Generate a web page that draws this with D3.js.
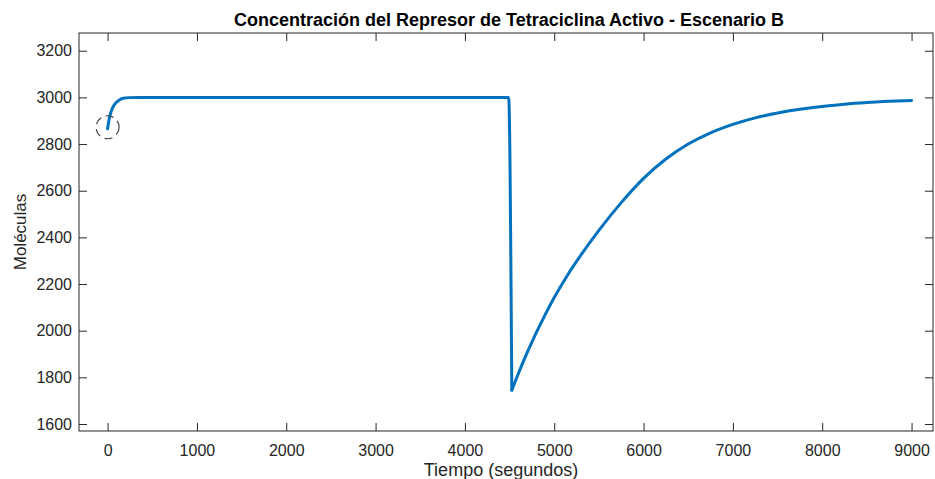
<!DOCTYPE html>
<html><head><meta charset="utf-8">
<script src="https://cdn.jsdelivr.net/npm/d3@7"></script>
<style>
body{margin:0;background:#fff;}
text{font-family:"Liberation Sans",Helvetica,Arial,sans-serif;}
</style></head>
<body><svg id="c" width="935" height="479"></svg>
<script>
const title = "Concentración del Represor de Tetraciclina Activo - Escenario B";
const xLabel = "Tiempo (segundos)";
const yLabel = "Moléculas";
const xTicks = [0,1000,2000,3000,4000,5000,6000,7000,8000,9000];
const yTicks = [1600,1800,2000,2200,2400,2600,2800,3000,3200];
const times  = [0,10,25,50,75,105,140,175,250,350,4490,4525,4575,4700,4900,5000,5150,5300,5500,5750,6000,6250,6500,6750,7000,7250,7500,7750,8000,8250,8500,8750,9000];
const values = [2865,2890,2920,2950,2968,2981,2991,2996,2999,3000,3000,1745,1794,1909,2070,2142,2239,2325,2430,2549,2653,2736,2800,2848,2884,2912,2933,2949,2961,2971,2978,2983,2987];
const markerPoint = [0, 2872];
const minIndex = 11; // sharp minimum after the drop

const L=79, R=933, T=33, B=431;
const svg=d3.select("#c");
const x=d3.scaleLinear().domain([-320,9240]).range([L,R]);
const y=d3.scaleLinear().domain([1570,3276]).range([B,T]);
const ax="#262626", tl=8;

svg.append("rect").attr("x",L).attr("y",T).attr("width",R-L).attr("height",B-T)
  .attr("fill","none").attr("stroke",ax).attr("stroke-width",1);

const fmt=d3.format("d");
const gx=svg.append("g").attr("transform",`translate(0,${B})`)
  .call(d3.axisBottom(x).tickValues(xTicks).tickFormat(fmt).tickSizeInner(-tl).tickSizeOuter(0).tickPadding(14));
const gxt=svg.append("g").attr("transform",`translate(0,${T})`)
  .call(d3.axisTop(x).tickValues(xTicks).tickFormat("").tickSizeInner(-tl).tickSizeOuter(0));
const gy=svg.append("g").attr("transform",`translate(${L},0)`)
  .call(d3.axisLeft(y).tickValues(yTicks).tickFormat(fmt).tickSizeInner(-tl).tickSizeOuter(0).tickPadding(7));
const gyr=svg.append("g").attr("transform",`translate(${R},0)`)
  .call(d3.axisRight(y).tickValues(yTicks).tickFormat("").tickSizeInner(-tl).tickSizeOuter(0));
[gx,gxt,gy,gyr].forEach(g=>{
  g.select(".domain").remove();
  g.selectAll(".tick line").attr("stroke",ax);
  g.selectAll(".tick text").attr("fill",ax).style("font-size","16px").style("font-family","Liberation Sans, Helvetica, Arial, sans-serif");
});

const data=times.map((t,i)=>[t,values[i]]);
const line=d3.line().x(d=>x(d[0])).y(d=>y(d[1])).curve(d3.curveMonotoneX);
[data.slice(0,minIndex+1), data.slice(minIndex)].forEach(seg=>{
  svg.append("path").datum(seg)
    .attr("fill","none").attr("stroke","#0072BD").attr("stroke-width",3)
    .attr("stroke-linejoin","round").attr("stroke-linecap","round")
    .attr("d",line);
});

svg.append("circle").attr("cx",x(markerPoint[0])).attr("cy",y(markerPoint[1])).attr("r",11.5)
  .attr("fill","none").attr("stroke","#404040").attr("stroke-width",1.2).attr("stroke-dasharray","8,5");

svg.append("text").attr("x",(L+R)/2+3).attr("y",26).attr("text-anchor","middle")
  .style("font-size","18px").style("font-weight","bold").attr("fill","#000").text(title);
svg.append("text").attr("x",(L+R)/2-5).attr("y",476).attr("text-anchor","middle")
  .style("font-size","18px").attr("fill",ax).text(xLabel);
svg.append("text").attr("transform",`translate(26,${(T+B)/2}) rotate(-90)`).attr("text-anchor","middle")
  .style("font-size","17px").attr("fill",ax).text(yLabel);
</script></body></html>
